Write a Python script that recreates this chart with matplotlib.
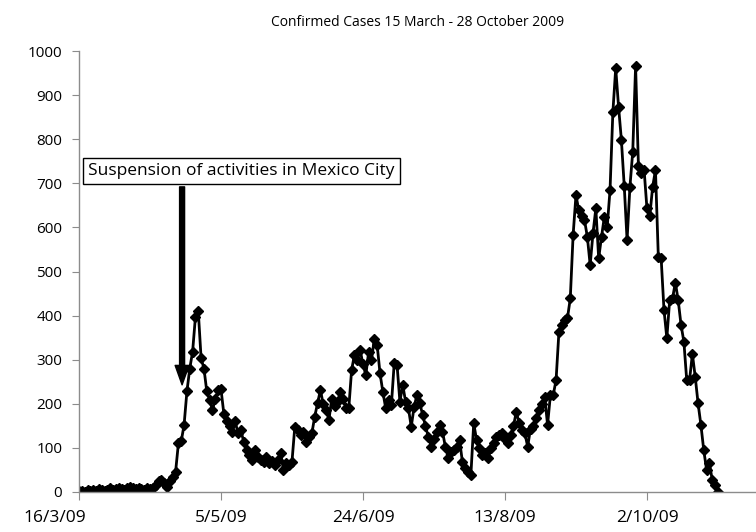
import matplotlib
matplotlib.use("Agg")
import matplotlib.pyplot as plt
from matplotlib.transforms import ScaledTranslation
import numpy as np
import pandas as pd

plt.rcParams['font.family'] = ['Open Sans', 'DejaVu Sans']

# daily confirmed cases from 16 March 2009
cases = [
    2, 3, 1, 4, 2, 5, 3, 6, 4, 2, 5, 8, 4, 6, 10, 7, 5, 9, 12, 8,
    6, 10, 7, 5, 9, 6, 8, 15, 26, 28, 20, 12, 25, 35, 45, 110, 115, 152, 228, 280,
    318, 397, 410, 303, 280, 228, 209, 186, 210, 232, 233, 178, 160, 150, 137, 160, 133, 140, 114, 95,
    84, 73, 95, 80, 73, 69, 80, 65, 70, 61, 72, 88, 50, 65, 62, 69, 148, 140, 129, 137,
    114, 125, 133, 171, 201, 231, 200, 186, 163, 212, 195, 205, 227, 210, 190, 190, 277, 311, 300, 322,
    290, 265, 318, 299, 348, 333, 269, 227, 190, 209, 197, 292, 288, 205, 243, 205, 190, 148, 193, 220,
    201, 175, 150, 125, 103, 120, 137, 152, 137, 103, 76, 91, 95, 103, 118, 69, 55, 46, 39, 156,
    118, 100, 84, 88, 76, 99, 110, 125, 130, 133, 120, 110, 129, 150, 182, 156, 140, 133, 103, 144,
    150, 167, 186, 200, 216, 152, 220, 220, 254, 363, 379, 390, 394, 439, 583, 673, 639, 625, 617, 579,
    515, 587, 643, 530, 579, 624, 601, 685, 862, 961, 874, 798, 694, 571, 692, 772, 966, 739, 723, 730,
    643, 626, 692, 730, 534, 530, 413, 349, 435, 439, 475, 435, 379, 341, 254, 254, 313, 261, 201, 152,
    95, 50, 65, 27, 16, 1,
]
dates = pd.date_range('2009-03-16', periods=len(cases), freq='D')

tick_labels = ['16/3/09', '5/5/09', '24/6/09', '13/8/09', '2/10/09']
tick_dates = pd.to_datetime(['2009-03-16', '2009-05-05', '2009-06-24', '2009-08-13', '2009-10-02'])

fig = plt.figure(figsize=(7.56, 5.32), dpi=100)
ax = fig.add_axes([0.1045, 0.0752, 0.8955, 0.8288])

ax.plot(dates, cases, color='black', lw=2, marker='D', ms=5, mec='black', mfc='black')

start = dates[0]
ax.set_xlim(start, start + pd.Timedelta(days=238.4))
ax.set_ylim(0, 1000)
ax.set_yticks(np.arange(0, 1001, 100))
ax.set_xticks(tick_dates)
ax.set_xticklabels(tick_labels)

for side in ['top', 'right']:
    ax.spines[side].set_visible(False)
for side in ['left', 'bottom']:
    ax.spines[side].set_color('#8c8c8c')
    ax.spines[side].set_linewidth(1)

ax.tick_params(axis='y', direction='out', length=5, color='#8c8c8c', labelsize=11, pad=7)
ax.tick_params(axis='x', direction='out', length=6, color='#8c8c8c', labelsize=12.5, pad=7)

# first date label sits a little left of the axis origin
first = ax.get_xticklabels()[0]
first.set_transform(first.get_transform() + ScaledTranslation(-0.24, 0, fig.dpi_scale_trans))

ax.set_title('Confirmed Cases 15 March - 28 October 2009', fontsize=10, pad=18)

# annotation box and arrow
arrow_day = start + pd.Timedelta(days=36.3)
ax.annotate('', xy=(arrow_day, 243), xytext=(arrow_day, 692),
            arrowprops=dict(width=3.6, headwidth=10, headlength=14,
                            facecolor='black', edgecolor='black', shrink=0))
ax.text(start + pd.Timedelta(days=3.3), 728, 'Suspension of activities in Mexico City',
        fontsize=12.5, va='center', ha='left',
        bbox=dict(boxstyle='square,pad=0.3', fc='white', ec='black', lw=1))

fig.savefig('out.png', dpi=100)
